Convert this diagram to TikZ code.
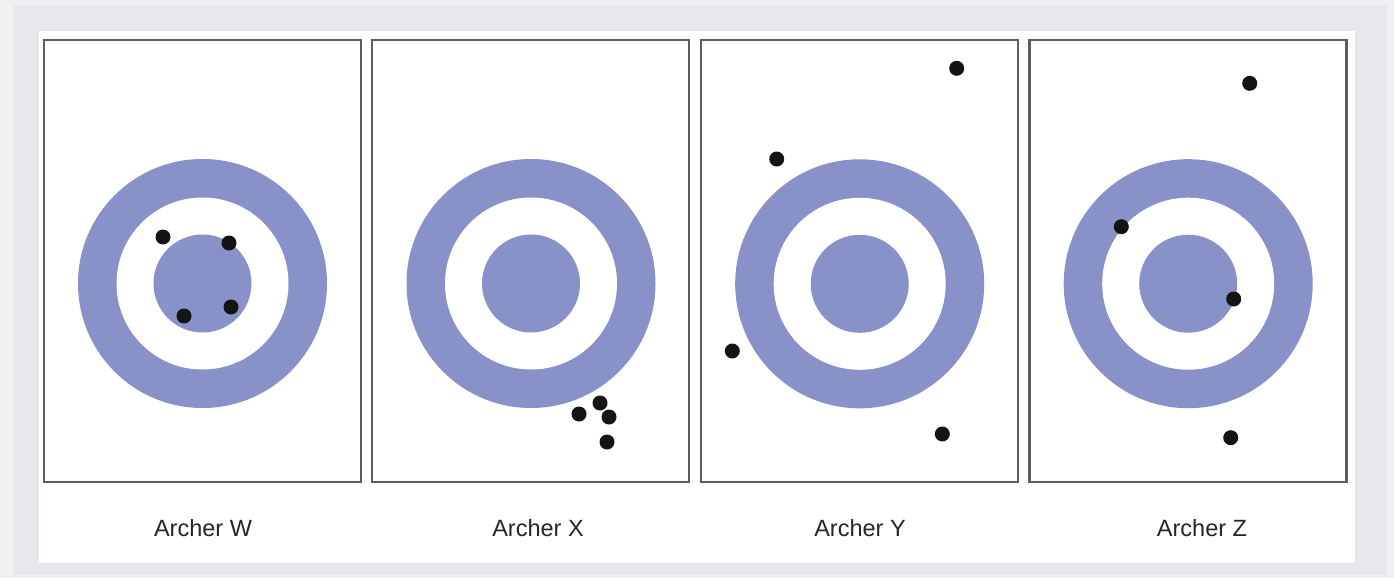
\documentclass[tikz,border=0pt]{standalone}
\usepackage{fontspec}
\setmainfont{Liberation Sans}
\definecolor{outerbg}{HTML}{EFF0EF}
\definecolor{bandbg}{HTML}{E6E8EC}
\definecolor{tcol}{HTML}{8891C8}
\definecolor{frame}{HTML}{5E5E5E}
\definecolor{labtxt}{HTML}{262626}
\tikzset{
  panelbox/.style={draw=frame, line width=2.2pt, fill=white, rectangle, minimum width=317pt, minimum height=442pt, inner sep=0pt},
  hole/.style={circle, fill=black!92, minimum size=15pt, inner sep=0pt},
  archlabel/.style={font=\fontsize{23.5}{26}\selectfont, text=labtxt, inner sep=0pt}
}
\newcommand{\target}[1]{%
  \fill[tcol] (#1) circle (124.5pt);
  \fill[white] (#1) circle (86pt);
  \fill[tcol] (#1) circle (49pt);
}
\begin{document}
\begin{tikzpicture}[x=1pt,y=-1pt]
\useasboundingbox (0,0) rectangle (1394,578);
\fill[outerbg] (0,0) rectangle (1394,578);
\fill[bandbg] (14,5) rectangle (1387,575);
\fill[white] (39,31) rectangle (1355,563);
% boxes
\node[panelbox] (b1) at (202.5,261) {};
\node[panelbox] (b2) at (530.5,261) {};
\node[panelbox] (b3) at (859.5,261) {};
\node[panelbox] (b4) at (1188,261) {};
% target centres
\coordinate (t1) at (202.5,283.5);
\coordinate (t2) at (531,283.5);
\coordinate (t3) at (859.7,283.8);
\coordinate (t4) at (1188.2,283.7);
\target{t1}
\target{t2}
\target{t3}
\target{t4}
% holes: Archer W
\node[hole] (w1) at (163,237) {};
\node[hole] (w2) at (229,243) {};
\node[hole] (w3) at (184,316) {};
\node[hole] (w4) at (231,307) {};
% Archer X
\node[hole] (x1) at (579,414) {};
\node[hole] (x2) at (600,403) {};
\node[hole] (x3) at (609,417) {};
\node[hole] (x4) at (607,442) {};
% Archer Y
\node[hole] (y1) at (956.7,68.3) {};
\node[hole] (y2) at (776.7,159) {};
\node[hole] (y3) at (732.3,351) {};
\node[hole] (y4) at (942.3,434) {};
% Archer Z
\node[hole] (z1) at (1249.7,83.3) {};
\node[hole] (z2) at (1121.3,226.7) {};
\node[hole] (z3) at (1233.7,299) {};
\node[hole] (z4) at (1230.7,437.7) {};
% labels
\node[archlabel] (l1) at (203,528) {Archer W};
\node[archlabel] (l2) at (538,528) {Archer X};
\node[archlabel] (l3) at (860,528) {Archer Y};
\node[archlabel] (l4) at (1202,528) {Archer Z};
\end{tikzpicture}
\end{document}
